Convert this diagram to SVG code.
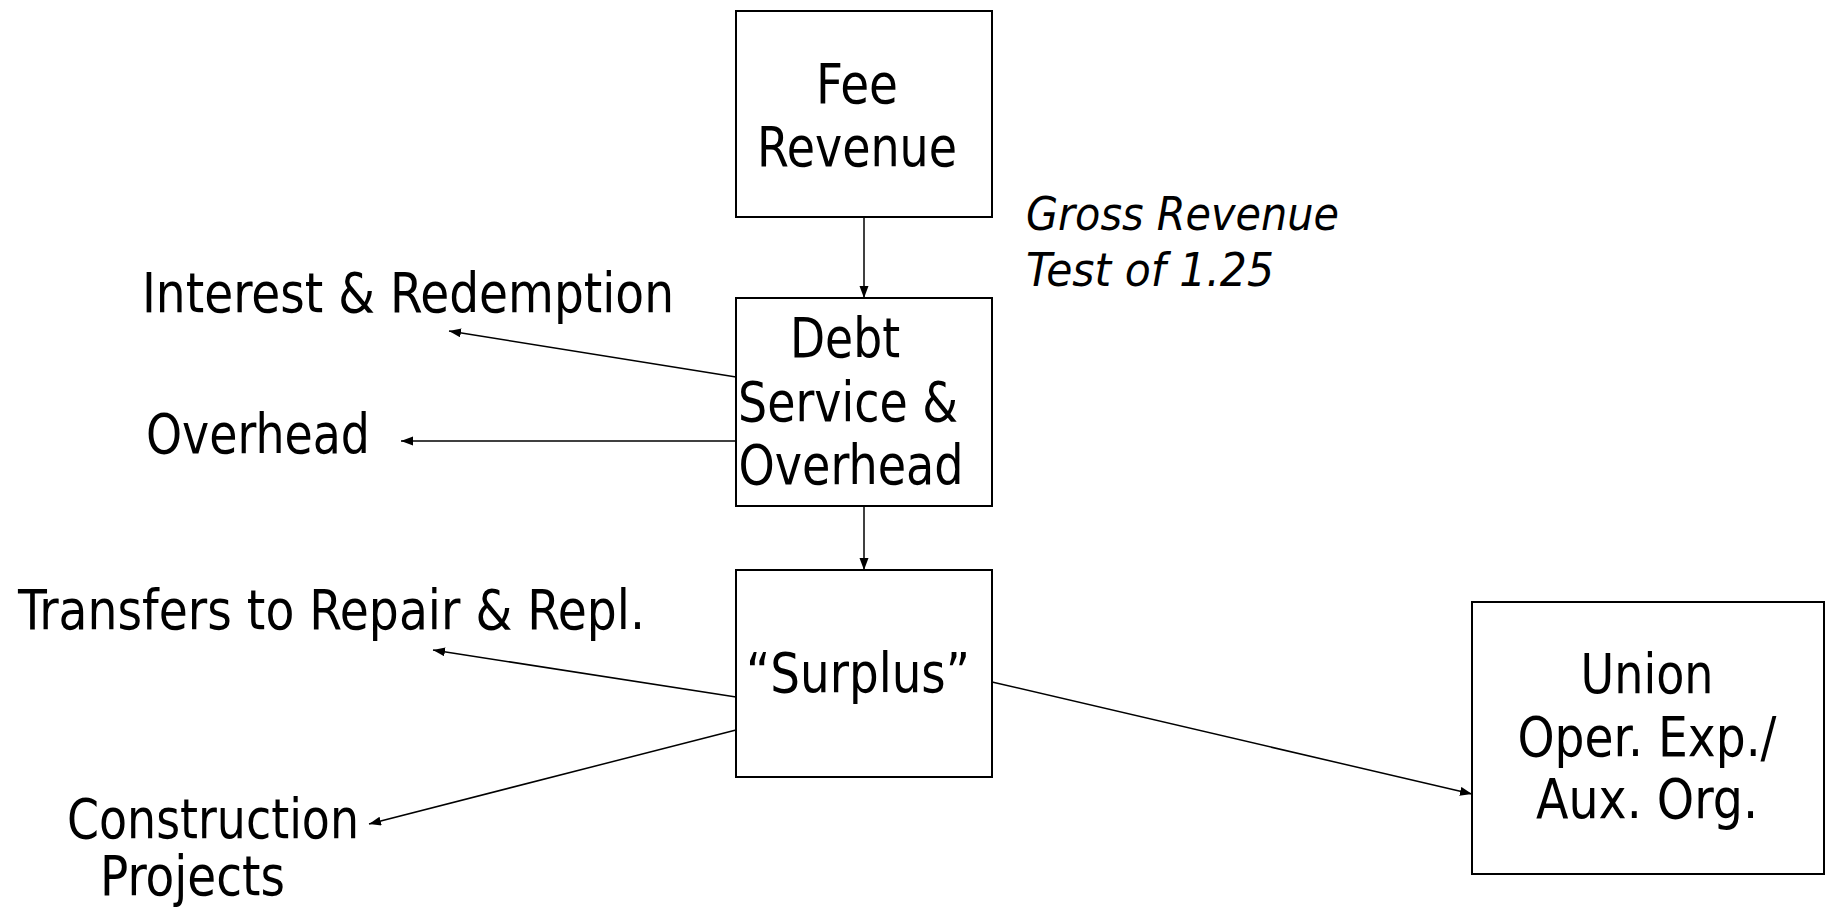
<svg xmlns="http://www.w3.org/2000/svg" width="1832" height="909" viewBox="0 0 1832 909">
<style>
.box{fill:#fff;stroke:#000;stroke-width:2}
.t{font-family:"DejaVu Sans Condensed","DejaVu Sans",sans-serif;font-stretch:condensed;font-size:55px;fill:#000}
.m{text-anchor:middle}
.i{font-family:"DejaVu Sans Condensed","DejaVu Sans",sans-serif;font-stretch:condensed;font-style:italic;font-size:46px;fill:#000}
.c{stroke:#000;stroke-width:1.5;fill:none;marker-end:url(#ah)}
</style>
<defs>
<marker id="ah" markerUnits="userSpaceOnUse" markerWidth="13" markerHeight="10" refX="12" refY="4.5" orient="auto">
<path d="M0,0 L12,4.5 L0,9 z" fill="#000"/>
</marker>
</defs>
<rect width="1832" height="909" fill="#fff"/>
<g id="connectors">
<line class="c" x1="864" y1="217" x2="864" y2="298"/>
<line class="c" x1="864" y1="506" x2="864" y2="570"/>
<line class="c" x1="736" y1="377" x2="449" y2="331"/>
<line class="c" x1="736" y1="441" x2="401" y2="441"/>
<line class="c" x1="736" y1="697" x2="433" y2="650"/>
<line class="c" x1="736" y1="730" x2="369" y2="824"/>
<line class="c" x1="992" y1="682" x2="1472" y2="794"/>
</g>
<g id="fee">
<rect class="box" x="736" y="11" width="256" height="206"/>
<text class="t m" x="857" y="103" textLength="82" lengthAdjust="spacingAndGlyphs">Fee</text>
<text class="t m" x="857" y="166" textLength="200" lengthAdjust="spacingAndGlyphs">Revenue</text>
</g>
<g id="gross-note">
<text class="i" x="1026" y="230" textLength="313" lengthAdjust="spacingAndGlyphs">Gross Revenue</text>
<text class="i" x="1026" y="286" textLength="248" lengthAdjust="spacingAndGlyphs">Test of 1.25</text>
</g>
<g id="debt">
<rect class="box" x="736" y="298" width="256" height="208"/>
<text class="t m" x="845" y="357" textLength="110" lengthAdjust="spacingAndGlyphs">Debt</text>
<text class="t m" x="848" y="421" textLength="220" lengthAdjust="spacingAndGlyphs">Service &amp;</text>
<text class="t m" x="851" y="484" textLength="225" lengthAdjust="spacingAndGlyphs">Overhead</text>
</g>
<g id="interest">
<text class="t" x="142" y="312" textLength="532" lengthAdjust="spacingAndGlyphs">Interest &amp; Redemption</text>
</g>
<g id="overhead">
<text class="t" x="146" y="453" textLength="224" lengthAdjust="spacingAndGlyphs">Overhead</text>
</g>
<g id="surplus">
<rect class="box" x="736" y="570" width="256" height="207"/>
<text class="t m" x="858" y="692" textLength="224" lengthAdjust="spacingAndGlyphs">“Surplus”</text>
</g>
<g id="transfers">
<text class="t" x="18" y="629" textLength="627" lengthAdjust="spacingAndGlyphs">Transfers to Repair &amp; Repl.</text>
</g>
<g id="construction">
<text class="t" x="67" y="838" textLength="292" lengthAdjust="spacingAndGlyphs">Construction</text>
<text class="t" x="100" y="895" textLength="185" lengthAdjust="spacingAndGlyphs">Projects</text>
</g>
<g id="union">
<rect class="box" x="1472" y="602" width="352" height="272"/>
<text class="t m" x="1647" y="693" textLength="133" lengthAdjust="spacingAndGlyphs">Union</text>
<text class="t m" x="1647" y="756" textLength="259" lengthAdjust="spacingAndGlyphs">Oper. Exp./</text>
<text class="t m" x="1647" y="818" textLength="222" lengthAdjust="spacingAndGlyphs">Aux. Org.</text>
</g>
</svg>
